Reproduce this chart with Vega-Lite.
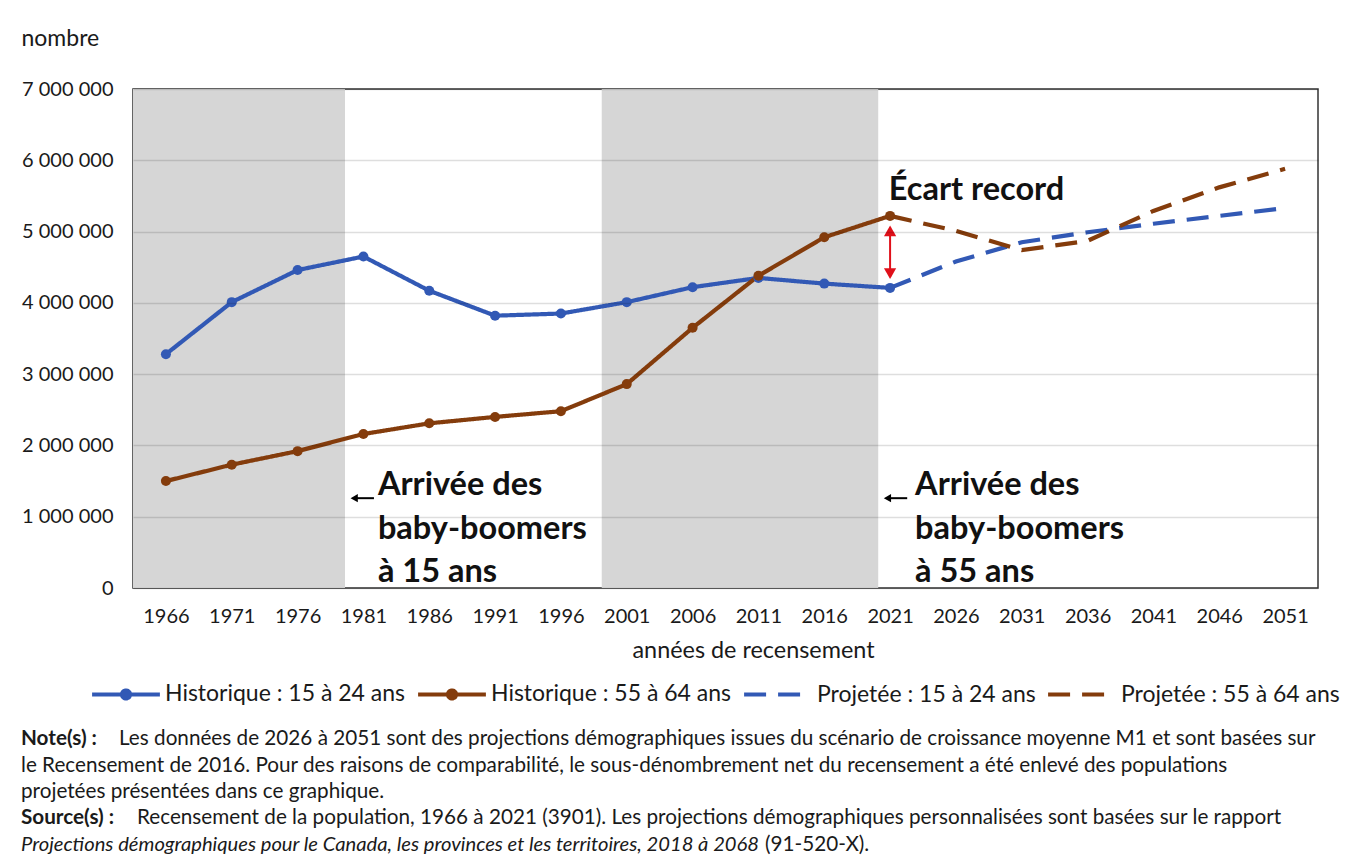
{
  "$schema": "https://vega.github.io/schema/vega-lite/v6.json",
  "padding": {"left": 20, "top": 26, "right": 10, "bottom": 4},
  "background": "white",
  "spacing": 18,
  "resolve": {"legend": {"color": "independent", "strokeDash": "independent"}},
  "config": {
    "font": "Lato",
    "locale": {"number": {"decimal": ",", "thousands": " ", "grouping": [3], "currency": ["", " $"]}}
  },
  "datasets": {
    "series": [
      {"annee": 1966, "valeur": 3280000, "serie": "Historique : 15 à 24 ans"},
      {"annee": 1971, "valeur": 4010000, "serie": "Historique : 15 à 24 ans"},
      {"annee": 1976, "valeur": 4460000, "serie": "Historique : 15 à 24 ans"},
      {"annee": 1981, "valeur": 4650000, "serie": "Historique : 15 à 24 ans"},
      {"annee": 1986, "valeur": 4170000, "serie": "Historique : 15 à 24 ans"},
      {"annee": 1991, "valeur": 3820000, "serie": "Historique : 15 à 24 ans"},
      {"annee": 1996, "valeur": 3850000, "serie": "Historique : 15 à 24 ans"},
      {"annee": 2001, "valeur": 4010000, "serie": "Historique : 15 à 24 ans"},
      {"annee": 2006, "valeur": 4220000, "serie": "Historique : 15 à 24 ans"},
      {"annee": 2011, "valeur": 4350000, "serie": "Historique : 15 à 24 ans"},
      {"annee": 2016, "valeur": 4270000, "serie": "Historique : 15 à 24 ans"},
      {"annee": 2021, "valeur": 4210000, "serie": "Historique : 15 à 24 ans"},
      {"annee": 1966, "valeur": 1500000, "serie": "Historique : 55 à 64 ans"},
      {"annee": 1971, "valeur": 1730000, "serie": "Historique : 55 à 64 ans"},
      {"annee": 1976, "valeur": 1920000, "serie": "Historique : 55 à 64 ans"},
      {"annee": 1981, "valeur": 2160000, "serie": "Historique : 55 à 64 ans"},
      {"annee": 1986, "valeur": 2310000, "serie": "Historique : 55 à 64 ans"},
      {"annee": 1991, "valeur": 2400000, "serie": "Historique : 55 à 64 ans"},
      {"annee": 1996, "valeur": 2480000, "serie": "Historique : 55 à 64 ans"},
      {"annee": 2001, "valeur": 2860000, "serie": "Historique : 55 à 64 ans"},
      {"annee": 2006, "valeur": 3650000, "serie": "Historique : 55 à 64 ans"},
      {"annee": 2011, "valeur": 4380000, "serie": "Historique : 55 à 64 ans"},
      {"annee": 2016, "valeur": 4920000, "serie": "Historique : 55 à 64 ans"},
      {"annee": 2021, "valeur": 5220000, "serie": "Historique : 55 à 64 ans"},
      {"annee": 2021, "valeur": 4210000, "serie": "Projetée : 15 à 24 ans"},
      {"annee": 2026, "valeur": 4580000, "serie": "Projetée : 15 à 24 ans"},
      {"annee": 2031, "valeur": 4850000, "serie": "Projetée : 15 à 24 ans"},
      {"annee": 2036, "valeur": 4990000, "serie": "Projetée : 15 à 24 ans"},
      {"annee": 2041, "valeur": 5110000, "serie": "Projetée : 15 à 24 ans"},
      {"annee": 2046, "valeur": 5220000, "serie": "Projetée : 15 à 24 ans"},
      {"annee": 2051, "valeur": 5330000, "serie": "Projetée : 15 à 24 ans"},
      {"annee": 2021, "valeur": 5220000, "serie": "Projetée : 55 à 64 ans"},
      {"annee": 2026, "valeur": 5010000, "serie": "Projetée : 55 à 64 ans"},
      {"annee": 2031, "valeur": 4740000, "serie": "Projetée : 55 à 64 ans"},
      {"annee": 2036, "valeur": 4870000, "serie": "Projetée : 55 à 64 ans"},
      {"annee": 2041, "valeur": 5290000, "serie": "Projetée : 55 à 64 ans"},
      {"annee": 2046, "valeur": 5620000, "serie": "Projetée : 55 à 64 ans"},
      {"annee": 2051, "valeur": 5880000, "serie": "Projetée : 55 à 64 ans"}
    ],
    "ombrage": [
      {"debut": 1963.5, "fin": 1979.6, "periode": "baby-boomers à 15 ans"},
      {"debut": 1999.1, "fin": 2020.1, "periode": "baby-boomers à 55 ans"}
    ],
    "ecart": [{"annee": 2021, "haut": 5060000, "bas": 4360000}],
    "pointes_ecart": [
      {"annee": 2021, "valeur": 5010000, "forme": "triangle-up"},
      {"annee": 2021, "valeur": 4410000, "forme": "triangle-down"}
    ],
    "fleches_arrivee": [
      {"debut": 1980.5, "fin": 1981.8, "valeur": 1260000},
      {"debut": 2021.0, "fin": 2022.3, "valeur": 1260000}
    ],
    "pointes_arrivee": [
      {"annee": 1980.3, "valeur": 1260000},
      {"annee": 2020.8, "valeur": 1260000}
    ],
    "etiquettes": [
      {"annee": 2020.9, "valeur": 5590000, "texte": "Écart record"},
      {"annee": 1982.1, "valeur": 1450000, "texte": "Arrivée des"},
      {"annee": 1982.1, "valeur": 830000, "texte": "baby-boomers"},
      {"annee": 1982.1, "valeur": 230000, "texte": "à 15 ans"},
      {"annee": 2022.9, "valeur": 1450000, "texte": "Arrivée des"},
      {"annee": 2022.9, "valeur": 830000, "texte": "baby-boomers"},
      {"annee": 2022.9, "valeur": 230000, "texte": "à 55 ans"}
    ],
    "notes": [
      {"ligne": 1, "col": 0, "seg": "gras", "texte": "Note(s) :"},
      {"ligne": 1, "col": 0, "seg": "apresNote", "texte": "Les données de 2026 à 2051 sont des projections démographiques issues du scénario de croissance moyenne M1 et sont basées sur"},
      {"ligne": 2, "col": 0, "seg": "normal", "texte": "le Recensement de 2016. Pour des raisons de comparabilité, le sous-dénombrement net du recensement a été enlevé des populations"},
      {"ligne": 3, "col": 0, "seg": "normal", "texte": "projetées présentées dans ce graphique."},
      {"ligne": 4, "col": 0, "seg": "gras", "texte": "Source(s) :"},
      {"ligne": 4, "col": 0, "seg": "apresSource", "texte": "Recensement de la population, 1966 à 2021 (3901). Les projections démographiques personnalisées sont basées sur le rapport"},
      {"ligne": 5, "col": 0, "seg": "italique", "texte": "Projections démographiques pour le Canada, les provinces et les territoires, 2018 à 2068"},
      {"ligne": 5, "col": 0, "seg": "apresItalique", "texte": "(91-520-X)."}
    ]
  },
  "vconcat": [
    {
      "width": 1185,
      "height": 499,
      "view": {"stroke": "#333333", "strokeWidth": 1.5},
      "layer": [
        {
          "data": {"name": "ombrage"},
          "mark": {"type": "rect", "color": "#D6D6D6"},
          "encoding": {
            "x": {"field": "debut", "type": "quantitative", "scale": {"domain": [1963.5, 2053.5], "nice": false, "zero": false}},
            "x2": {"field": "fin"}
          }
        },
        {
          "data": {"name": "series"},
          "mark": {"type": "line", "strokeWidth": 4.2, "strokeCap": "butt"},
          "encoding": {
            "x": {
              "field": "annee", "type": "quantitative",
              "scale": {"domain": [1963.5, 2053.5], "nice": false, "zero": false},
              "axis": {
                "title": "années de recensement",
                "values": [1966, 1971, 1976, 1981, 1986, 1991, 1996, 2001, 2006, 2011, 2016, 2021, 2026, 2031, 2036, 2041, 2046, 2051],
                "format": "d", "ticks": false, "domain": false, "grid": false, "labelFlush": false,
                "labelFontSize": 20, "labelPadding": 18, "labelColor": "#1a1a1a",
                "titleFontSize": 23.4, "titleFontWeight": "normal", "titlePadding": 13, "titleColor": "#1a1a1a",
                "titleX": 620
              }
            },
            "y": {
              "field": "valeur", "type": "quantitative",
              "scale": {"domain": [0, 7000000], "nice": false},
              "axis": {
                "title": "nombre",
                "values": [0, 1000000, 2000000, 3000000, 4000000, 5000000, 6000000, 7000000],
                "format": ",d", "ticks": false, "domain": false,
                "labelFontSize": 20, "labelPadding": 20, "labelColor": "#1a1a1a",
                "gridColor": "#000000", "gridOpacity": 0.13, "gridWidth": 1.5, "zindex": 1,
                "titleAngle": 0, "titleX": -112, "titleY": -51, "titleAlign": "left", "titleBaseline": "middle",
                "titleFontSize": 23, "titleFontWeight": "normal", "titleColor": "#1a1a1a"
              }
            },
            "color": {
              "field": "serie", "type": "nominal",
              "scale": {
                "domain": ["Historique : 15 à 24 ans", "Historique : 55 à 64 ans", "Projetée : 15 à 24 ans", "Projetée : 55 à 64 ans"],
                "range": ["#3259B5", "#843C0C", "#3259B5", "#843C0C"]
              },
              "legend": {
                "title": null, "orient": "none", "direction": "horizontal", "legendX": -43, "legendY": 569,
                "symbolType": "stroke", "symbolSize": 4600, "symbolStrokeWidth": 4,
                "labelFontSize": 23, "labelColor": "#1a1a1a", "labelOffset": 3, "columnPadding": 4,
                "labelLimit": 400,
                "encode": {"symbols": {"update": {"shape": {"signal": "indexof(datum.value, 'Historique') === 0 ? 'M-1,0H1M0.12,0A0.12,0.12,0,1,1,-0.12,0A0.12,0.12,0,1,1,0.12,0M0.05,0A0.05,0.05,0,1,1,-0.05,0A0.05,0.05,0,1,1,0.05,0' : 'stroke'"}}}}
              }
            },
            "strokeDash": {
              "field": "serie", "type": "nominal",
              "scale": {
                "domain": ["Historique : 15 à 24 ans", "Historique : 55 à 64 ans", "Projetée : 15 à 24 ans", "Projetée : 55 à 64 ans"],
                "range": [[1, 0], [1, 0], [22, 12], [22, 12]]
              },
              "legend": {
                "title": null, "orient": "none", "direction": "horizontal", "legendX": -43, "legendY": 569,
                "symbolType": "stroke", "symbolSize": 4600, "symbolStrokeWidth": 4,
                "labelFontSize": 23, "labelColor": "#1a1a1a", "labelOffset": 3, "columnPadding": 4,
                "labelLimit": 400,
                "encode": {"symbols": {"update": {"shape": {"signal": "indexof(datum.value, 'Historique') === 0 ? 'M-1,0H1M0.12,0A0.12,0.12,0,1,1,-0.12,0A0.12,0.12,0,1,1,0.12,0M0.05,0A0.05,0.05,0,1,1,-0.05,0A0.05,0.05,0,1,1,0.05,0' : 'stroke'"}}}}
              }
            }
          }
        },
        {
          "data": {"name": "series"},
          "transform": [{"filter": "indexof(datum.serie, 'Historique') === 0"}],
          "mark": {"type": "point", "shape": "circle", "filled": true, "size": 100, "opacity": 1},
          "encoding": {
            "x": {"field": "annee", "type": "quantitative"},
            "y": {"field": "valeur", "type": "quantitative"},
            "fill": {
              "field": "serie", "type": "nominal", "legend": null,
              "scale": {"domain": ["Historique : 15 à 24 ans", "Historique : 55 à 64 ans"], "range": ["#3259B5", "#843C0C"]}
            }
          }
        },
        {
          "data": {"name": "ecart"},
          "mark": {"type": "rule", "color": "#E0101A", "strokeWidth": 2},
          "encoding": {
            "x": {"field": "annee", "type": "quantitative"},
            "y": {"field": "haut", "type": "quantitative"},
            "y2": {"field": "bas"}
          }
        },
        {
          "data": {"name": "pointes_ecart"},
          "mark": {"type": "point", "filled": true, "color": "#E0101A", "size": 150, "opacity": 1},
          "encoding": {
            "x": {"field": "annee", "type": "quantitative"},
            "y": {"field": "valeur", "type": "quantitative"},
            "shape": {"field": "forme", "type": "nominal", "scale": null}
          }
        },
        {
          "data": {"name": "fleches_arrivee"},
          "mark": {"type": "rule", "color": "#000000", "strokeWidth": 2},
          "encoding": {
            "x": {"field": "debut", "type": "quantitative"},
            "x2": {"field": "fin"},
            "y": {"field": "valeur", "type": "quantitative"}
          }
        },
        {
          "data": {"name": "pointes_arrivee"},
          "mark": {"type": "point", "filled": true, "color": "#000000", "shape": "triangle-left", "size": 70, "opacity": 1},
          "encoding": {
            "x": {"field": "annee", "type": "quantitative"},
            "y": {"field": "valeur", "type": "quantitative"}
          }
        },
        {
          "data": {"name": "etiquettes"},
          "mark": {"type": "text", "align": "left", "baseline": "middle", "fontSize": 32.5, "fontWeight": "bold", "color": "#111111"},
          "encoding": {
            "x": {"field": "annee", "type": "quantitative"},
            "y": {"field": "valeur", "type": "quantitative"},
            "text": {"field": "texte"}
          }
        }
      ]
    },
    {
      "width": 1188,
      "height": 132,
      "view": {"stroke": null},
      "data": {"name": "notes"},
      "encoding": {
        "x": {"field": "col", "type": "quantitative", "scale": {"domain": [0, 1]}, "axis": null},
        "y": {"field": "ligne", "type": "quantitative", "scale": {"domain": [0.5, 5.5], "reverse": true, "nice": false, "zero": false}, "axis": null},
        "text": {"field": "texte"}
      },
      "layer": [
        {"transform": [{"filter": "datum.seg === 'gras'"}], "mark": {"type": "text", "align": "left", "baseline": "middle", "fontSize": 20.7, "fontWeight": "bold", "color": "#1a1a1a", "dx": -112}},
        {"transform": [{"filter": "datum.seg === 'normal'"}], "mark": {"type": "text", "align": "left", "baseline": "middle", "fontSize": 20.7, "color": "#1a1a1a", "dx": -112}},
        {"transform": [{"filter": "datum.seg === 'apresNote'"}], "mark": {"type": "text", "align": "left", "baseline": "middle", "fontSize": 20.7, "color": "#1a1a1a", "dx": -14}},
        {"transform": [{"filter": "datum.seg === 'apresSource'"}], "mark": {"type": "text", "align": "left", "baseline": "middle", "fontSize": 20.7, "color": "#1a1a1a", "dx": 4}},
        {"transform": [{"filter": "datum.seg === 'italique'"}], "mark": {"type": "text", "align": "left", "baseline": "middle", "fontSize": 20.2, "fontStyle": "italic", "color": "#1a1a1a", "dx": -112}},
        {"transform": [{"filter": "datum.seg === 'apresItalique'"}], "mark": {"type": "text", "align": "left", "baseline": "middle", "fontSize": 20.7, "color": "#1a1a1a", "dx": 632}}
      ]
    }
  ]
}
